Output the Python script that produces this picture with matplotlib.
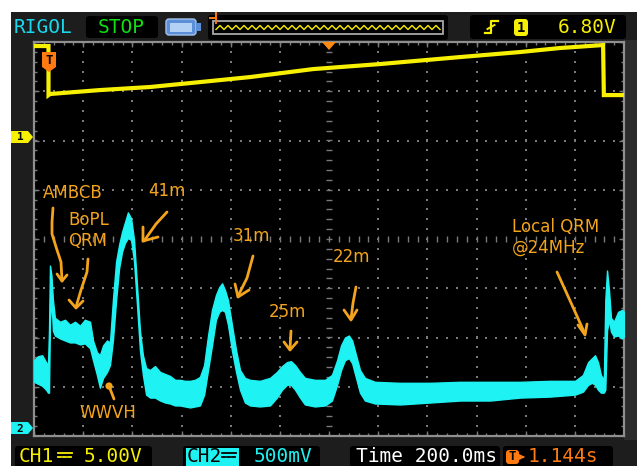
import matplotlib
matplotlib.use("Agg")
import matplotlib.pyplot as plt
from matplotlib.patches import Rectangle, FancyBboxPatch, Polygon, Circle
import numpy as np

# ---------------- captured waveform data ----------------
# Channel 2 (spectrum sweep), min/max envelope of the noisy trace
ch2_t_ms = [0, 16, 33, 49, 57, 61, 65, 71, 77, 85, 106, 126, 146, 167, 187, 207, 228, 240,
            256, 268, 281, 297, 309, 321, 334, 346, 358, 370, 382, 395, 407, 419, 431, 443,
            456, 472, 492, 513, 533, 553, 574, 594, 614, 635, 655, 675, 692, 708, 724, 740,
            753, 765, 777, 789, 805, 822, 838, 858, 879, 919, 960, 988, 1009, 1029, 1045,
            1062, 1082, 1102, 1143, 1184, 1212, 1233, 1249, 1265, 1281, 1294, 1310, 1326,
            1346, 1387, 1489, 1611, 1733, 1855, 1977, 2099, 2201, 2233, 2254, 2270, 2282,
            2294, 2306, 2318, 2324, 2331, 2339, 2347, 2359, 2376, 2392, 2400]
ch2_max_v = [0.69, 0.73, 0.74, 0.67, 0.64, 0.99, 1.65, 1.55, 1.30, 1.12, 1.08, 1.10, 1.05,
             1.08, 1.04, 1.10, 1.08, 0.89, 0.77, 0.74, 0.84, 0.89, 0.87, 1.30, 1.69, 1.86,
             1.99, 2.09, 2.19, 2.13, 1.91, 1.45, 0.99, 0.74, 0.61, 0.59, 0.63, 0.57, 0.55,
             0.53, 0.49, 0.49, 0.48, 0.48, 0.49, 0.52, 0.64, 0.94, 1.20, 1.35, 1.43, 1.47,
             1.40, 1.30, 1.05, 0.79, 0.59, 0.51, 0.49, 0.48, 0.51, 0.57, 0.63, 0.67, 0.68,
             0.64, 0.57, 0.51, 0.49, 0.49, 0.54, 0.69, 0.84, 0.92, 0.94, 0.89, 0.74, 0.59,
             0.51, 0.47, 0.46, 0.46, 0.47, 0.47, 0.47, 0.48, 0.48, 0.54, 0.67, 0.71, 0.74,
             0.67, 0.54, 0.49, 1.30, 1.60, 1.40, 1.12, 1.08, 1.18, 1.20, 1.18]
ch2_min_v = [0.47, 0.45, 0.43, 0.39, 0.36, 0.36, 1.10, 1.30, 0.99, 0.94, 0.91, 0.89, 0.87,
             0.87, 0.85, 0.86, 0.81, 0.69, 0.54, 0.41, 0.51, 0.57, 0.64, 0.89, 1.30, 1.62,
             1.79, 1.88, 1.93, 1.91, 1.69, 1.25, 0.79, 0.54, 0.34, 0.31, 0.31, 0.28, 0.26,
             0.25, 0.23, 0.23, 0.22, 0.21, 0.22, 0.23, 0.34, 0.59, 0.84, 1.10, 1.18, 1.20,
             1.18, 1.05, 0.79, 0.57, 0.39, 0.26, 0.23, 0.22, 0.23, 0.31, 0.39, 0.44, 0.44,
             0.39, 0.31, 0.24, 0.22, 0.23, 0.28, 0.44, 0.59, 0.69, 0.71, 0.66, 0.51, 0.36,
             0.28, 0.25, 0.24, 0.26, 0.28, 0.28, 0.31, 0.32, 0.34, 0.37, 0.44, 0.46, 0.44,
             0.39, 0.36, 0.36, 0.39, 0.99, 1.10, 0.98, 0.93, 0.94, 0.91, 0.93]

# Channel 1 (sweep ramp)
ch1_t_ms = [0, 53, 59, 59, 65, 268, 472, 675, 879, 1135, 1407, 1733, 1977, 2140, 2315, 2318, 2400]
ch1_v = [9.24, 9.24, 9.24, 4.26, 4.37, 4.77, 5.08, 5.58, 6.09, 6.90, 7.41, 8.12, 8.63, 9.04,
         9.34, 4.26, 4.26]

# Scope settings
TIME_PER_DIV_MS = 200
CH1_V_PER_DIV = 5.0
CH2_V_PER_DIV = 0.5
CH1_OFFSET_DIV = 2.07
CH2_OFFSET_DIV = -3.84

# ---------------- figure / screen frame ----------------
W, H = 637, 466
PL, PR, PT, PB = 34, 624, 42, 436

fig = plt.figure(figsize=(W / 100, H / 100), dpi=100)
fig.patch.set_facecolor("white")

bg = fig.add_axes([0, 0, 1, 1])
bg.set_xlim(0, W)
bg.set_ylim(H, 0)
bg.axis("off")
bg.add_patch(Rectangle((11, 12), W - 11, H - 12, color="#1d1d1d", lw=0))
bg.add_patch(Rectangle((PR, PT - 2), W - PR, PB - PT + 6, color="#2c2c2c", lw=0))

# ---------------- waveform area ----------------
ax = fig.add_axes([PL / W, 1 - PB / H, (PR - PL) / W, (PB - PT) / H])
ax.set_facecolor("black")
ax.set_xlim(0, 12 * TIME_PER_DIV_MS)
ax.set_ylim(-4, 4)
ax.set_xticks([])
ax.set_yticks([])
for s in ax.spines.values():
    s.set_color("#8f8f8f")
    s.set_linewidth(1.6)

GRID = "#7a7a7a"
t_end = 12 * TIME_PER_DIV_MS
minor_t = np.arange(0, t_end + 1, TIME_PER_DIV_MS / 5)
minor_d = np.arange(-4, 4.001, 0.2)

# dotted graticule
for k in range(1, 12):
    if k == 6:
        continue
    ax.scatter(np.full(minor_d.size, k * TIME_PER_DIV_MS), minor_d, s=1.6, marker="s",
               c=GRID, linewidths=0, zorder=1)
for k in range(-3, 4):
    if k == 0:
        continue
    ax.scatter(minor_t, np.full(minor_t.size, k), s=1.6, marker="s", c=GRID,
               linewidths=0, zorder=1)

# centre cross with sub-division ticks
ax.vlines(minor_t, -0.06, 0.06, color=GRID, lw=1.0, zorder=1)
ax.hlines(minor_d, t_end / 2 - 12, t_end / 2 + 12, color=GRID, lw=1.0, zorder=1)

# border ticks
maj_t = np.arange(0, t_end + 1, TIME_PER_DIV_MS)
maj_d = np.arange(-4, 4.001, 1.0)
ax.vlines(minor_t, 4 - 0.06, 4, color=GRID, lw=1.0)
ax.vlines(minor_t, -4, -4 + 0.06, color=GRID, lw=1.0)
ax.vlines(maj_t, 4 - 0.11, 4, color=GRID, lw=1.0)
ax.vlines(maj_t, -4, -4 + 0.11, color=GRID, lw=1.0)
ax.hlines(minor_d, 0, 12, color=GRID, lw=1.0)
ax.hlines(minor_d, t_end - 12, t_end, color=GRID, lw=1.0)
ax.hlines(maj_d, 0, 22, color=GRID, lw=1.0)
ax.hlines(maj_d, t_end - 22, t_end, color=GRID, lw=1.0)

# traces
t2 = np.array(ch2_t_ms)
hi2 = np.array(ch2_max_v) / CH2_V_PER_DIV + CH2_OFFSET_DIV
lo2 = np.array(ch2_min_v) / CH2_V_PER_DIV + CH2_OFFSET_DIV
CYAN = "#1ff2f2"
ax.fill_between(t2, lo2, hi2, color=CYAN, lw=1.0, edgecolor=CYAN, zorder=3)

t1 = np.array(ch1_t_ms)
d1 = np.array(ch1_v) / CH1_V_PER_DIV + CH1_OFFSET_DIV
ax.plot(t1, d1, color="#f7f000", lw=3.0, solid_joinstyle="miter", zorder=4)

# ---------------- overlay (markers, notes, status bars) ----------------
ov = fig.add_axes([0, 0, 1, 1], facecolor="none")
ov.set_xlim(0, W)
ov.set_ylim(H, 0)
ov.axis("off")

ORANGE = "#f3a41c"
MONO = "DejaVu Sans Mono"

# channel markers
ov.add_patch(Polygon([(11, 131), (28, 131), (33, 137), (28, 143), (11, 143)], closed=True,
                     fc="#f7f000", ec="none"))
ov.text(20, 137.5, "1", color="black", fontsize=8, fontweight="bold", ha="center", va="center",
        family=MONO)
ov.add_patch(Polygon([(11, 422), (28, 422), (33, 428), (28, 434), (11, 434)], closed=True,
                     fc=CYAN, ec="none"))
ov.text(20, 428.5, "2", color="black", fontsize=8, fontweight="bold", ha="center", va="center",
        family=MONO)

# trigger markers
ov.add_patch(Polygon([(322, 42), (336, 42), (329, 50)], closed=True, fc="#ff8a10", ec="none"))
ov.add_patch(Polygon([(42, 52), (56, 52), (56, 67), (49, 72), (42, 67)], closed=True,
                     fc="#ff7a10", ec="none"))
ov.text(49, 60, "T", color="black", fontsize=9, fontweight="bold", ha="center", va="center",
        family=MONO)

# annotations
def note(x, y, s, ha="center"):
    ov.text(x, y, s, color=ORANGE, fontsize=12, ha=ha, va="center", family="DejaVu Sans")

def stroke(pts, lw=2.0):
    xs, ys = zip(*pts)
    ov.plot(xs, ys, color=ORANGE, lw=lw, solid_capstyle="round", solid_joinstyle="round")

note(73, 193, "AMBCB")
note(89, 220, "BoPL")
note(88, 241, "QRM")
note(167, 191, "41m")
note(251, 236, "31m")
note(287, 312, "25m")
note(351, 257, "22m")
note(108, 413, "WWVH")
note(512, 227, "Local QRM", ha="left")
note(512, 248, "@24MHz", ha="left")

stroke([(53, 208), (52, 222), (52, 234), (57, 250), (61, 262), (62, 281)])
stroke([(57, 274), (62, 281), (67, 275)])
stroke([(88, 259), (87, 272), (81, 290), (76, 307)])
stroke([(69, 300), (76, 308), (83, 301)])
stroke([(167, 212), (156, 224), (144, 241)])
stroke([(143, 227), (143, 241), (158, 237)])
stroke([(253, 256), (247, 278), (238, 296)])
stroke([(235, 284), (238, 297), (249, 290)])
stroke([(291, 331), (290, 349)])
stroke([(284, 342), (290, 350), (297, 342)])
stroke([(356, 287), (353, 303), (351, 319)])
stroke([(344, 310), (351, 320), (357, 310)])
stroke([(557, 272), (572, 305), (585, 334)])
stroke([(578, 325), (585, 335), (587, 324)])
ov.add_patch(Circle((109, 386), 3.6, fc=ORANGE, ec="none"))
stroke([(109, 386), (114, 399)])

# top status bar
ov.text(14, 27.5, "RIGOL", color="#19d8ee", fontsize=14, ha="left", va="center", family=MONO)
ov.add_patch(FancyBboxPatch((86, 16), 72, 22, boxstyle="round,pad=0,rounding_size=3",
                            fc="black", ec="none"))
ov.text(121, 27.5, "STOP", color="#10e010", fontsize=14, ha="center", va="center", family=MONO)
ov.add_patch(FancyBboxPatch((166, 19), 30, 16, boxstyle="round,pad=0,rounding_size=3",
                            fc="#5b8fd8", ec="#a4c4ef", lw=1))
ov.add_patch(Rectangle((170, 22.5), 22, 9, fc="#b3d0f5", ec="none"))
ov.add_patch(Rectangle((196, 23), 5, 8, fc="#5b8fd8", ec="none"))

ov.add_patch(FancyBboxPatch((208, 15), 240, 25, boxstyle="round,pad=0,rounding_size=3",
                            fc="black", ec="none"))
ov.add_patch(Rectangle((213, 21), 230, 13, fc="none", ec="#a8a8a8", lw=1.3))
zx = np.arange(216, 441, 4)
zy = np.where(np.arange(zx.size) % 2 == 0, 29.5, 25.5)
ov.plot(zx, zy, color="#f7f000", lw=1.0)
ov.plot([210, 216], [18, 18], color="#ff7a10", lw=1.4)
ov.plot([216, 216], [13, 23], color="#ff7a10", lw=1.4)

ov.add_patch(FancyBboxPatch((470, 15), 156, 24, boxstyle="round,pad=0,rounding_size=3",
                            fc="black", ec="none"))
ov.plot([485, 491, 491, 498], [33, 33, 21, 21], color="#f7f000", lw=1.6)
ov.plot([487.5, 494.5], [29, 25], color="#f7f000", lw=1.4)
ov.add_patch(FancyBboxPatch((514, 19), 14, 17, boxstyle="round,pad=0,rounding_size=3",
                            fc="#f7f000", ec="none"))
ov.text(521, 27.5, "1", color="black", fontsize=10, fontweight="bold", ha="center",
        va="center", family=MONO)
ov.text(558, 27.5, "6.80V", color="#f7f000", fontsize=14, ha="left", va="center", family=MONO)

# bottom status bar
for (x0, x1) in [(15, 152), (183, 320), (350, 500), (503, 613)]:
    ov.add_patch(FancyBboxPatch((x0, 446), x1 - x0, 24, boxstyle="round,pad=0,rounding_size=3",
                                fc="black", ec="none"))

def dc_symbol(x, y, color):
    ov.plot([x, x + 14], [y, y], color=color, lw=1.3)
    for k in range(3):
        ov.plot([x + k * 5, x + k * 5 + 3], [y + 4, y + 4], color=color, lw=1.3)

ov.text(19, 457, "CH1", color="#f7f000", fontsize=14, ha="left", va="center", family=MONO)
dc_symbol(58, 453, "#f7f000")
ov.text(84, 457, "5.00V", color="#f7f000", fontsize=14, ha="left", va="center", family=MONO)

ov.add_patch(Rectangle((186, 448), 53, 20, fc=CYAN, ec="none"))
ov.text(187, 457, "CH2", color="black", fontsize=14, ha="left", va="center", family=MONO)
dc_symbol(222, 453, "black")
ov.text(254, 457, "500mV", color=CYAN, fontsize=14, ha="left", va="center", family=MONO)

ov.text(356, 457, "Time 200.0ms", color="white", fontsize=14, ha="left", va="center",
        family=MONO)

ov.add_patch(FancyBboxPatch((506, 450), 13, 14, boxstyle="round,pad=0,rounding_size=3",
                            fc="#ff7a10", ec="none"))
ov.text(512.5, 457, "T", color="black", fontsize=9, fontweight="bold", ha="center",
        va="center", family=MONO)
ov.annotate("", xy=(528, 457), xytext=(519, 457),
            arrowprops=dict(arrowstyle="-|>", color="#ff7a10", lw=1.3, mutation_scale=7))
ov.text(528, 457, "1.144s", color="#ff7a10", fontsize=14, ha="left", va="center", family=MONO)

fig.savefig("out.png", dpi=100, facecolor=fig.get_facecolor())
